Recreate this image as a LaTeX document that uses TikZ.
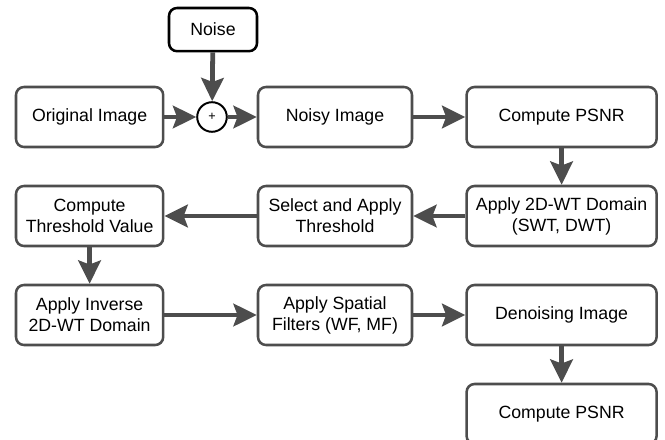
\documentclass[tikz,border=0pt]{standalone}
\usepackage{fontspec}
\setmainfont{Liberation Sans}
\usetikzlibrary{arrows.meta}

\definecolor{linegray}{HTML}{4D4D4D}

\begin{document}
\begin{tikzpicture}[thick,
        box/.style={draw=linegray, line width=1.8pt, rounded corners=0.2cm, fill=white,
            minimum height=1.5cm, align=center, font=\fontsize{12.6}{15}\selectfont},
        wbox/.style={box, minimum width=4.75cm},
        mbox/.style={box, minimum width=3.85cm},
        sbox/.style={box, minimum width=3.68cm},
        flow/.style={draw=linegray, line width=3.4pt, -{Stealth[length=0.58cm, width=0.56cm, inset=0.1cm]}}]
        \useasboundingbox (0, 0) rectangle (16.625, -11);

        % INPUT
        \node[box, draw=black, minimum width=2.2cm, minimum height=1.08cm] (noise) at (5.325, -0.74) {Noise};
        \node[sbox] (orig) at (2.24, -2.925) {Original Image};
        \node[draw=black, line width=1.4pt, circle, minimum size=0.74cm, inner sep=0pt, font=\small] (sum) at (5.3, -2.925) {+};
        \node[mbox] (noisy) at (8.375, -2.925) {Noisy Image};
        \node[wbox] (psnr) at (14.04, -2.925) {Compute PSNR};

        % WAVELET
        \node[wbox] (wt) at (14.04, -5.4) {Apply 2D-WT Domain\\(SWT, DWT)};
        \node[mbox] (select) at (8.375, -5.4) {Select and Apply\\Threshold};
        \node[sbox] (thresh) at (2.24, -5.4) {Compute\\Threshold Value};

        % OUTPUT
        \node[sbox] (inverse) at (2.24, -7.875) {Apply Inverse\\2D-WT Domain};
        \node[mbox] (spatial) at (8.375, -7.875) {Apply Spatial\\Filters (WF, MF)};
        \node[wbox] (denoised) at (14.04, -7.875) {Denoising Image};
        \node[wbox] (psnrout) at (14.04, -10.35) {Compute PSNR};

        \draw[flow] (noise) -- (sum);
        \draw[flow] (orig) -- (sum);
        \draw[flow] (sum) -- (noisy);
        \draw[flow] (noisy) -- (psnr);
        \draw[flow] (psnr) -- (wt);
        \draw[flow] (wt) -- (select);
        \draw[flow] (select) -- (thresh);
        \draw[flow] (thresh) -- (inverse);
        \draw[flow] (inverse) -- (spatial);
        \draw[flow] (spatial) -- (denoised);
        \draw[flow] (denoised) -- (psnrout);
    \end{tikzpicture}
\end{document}
